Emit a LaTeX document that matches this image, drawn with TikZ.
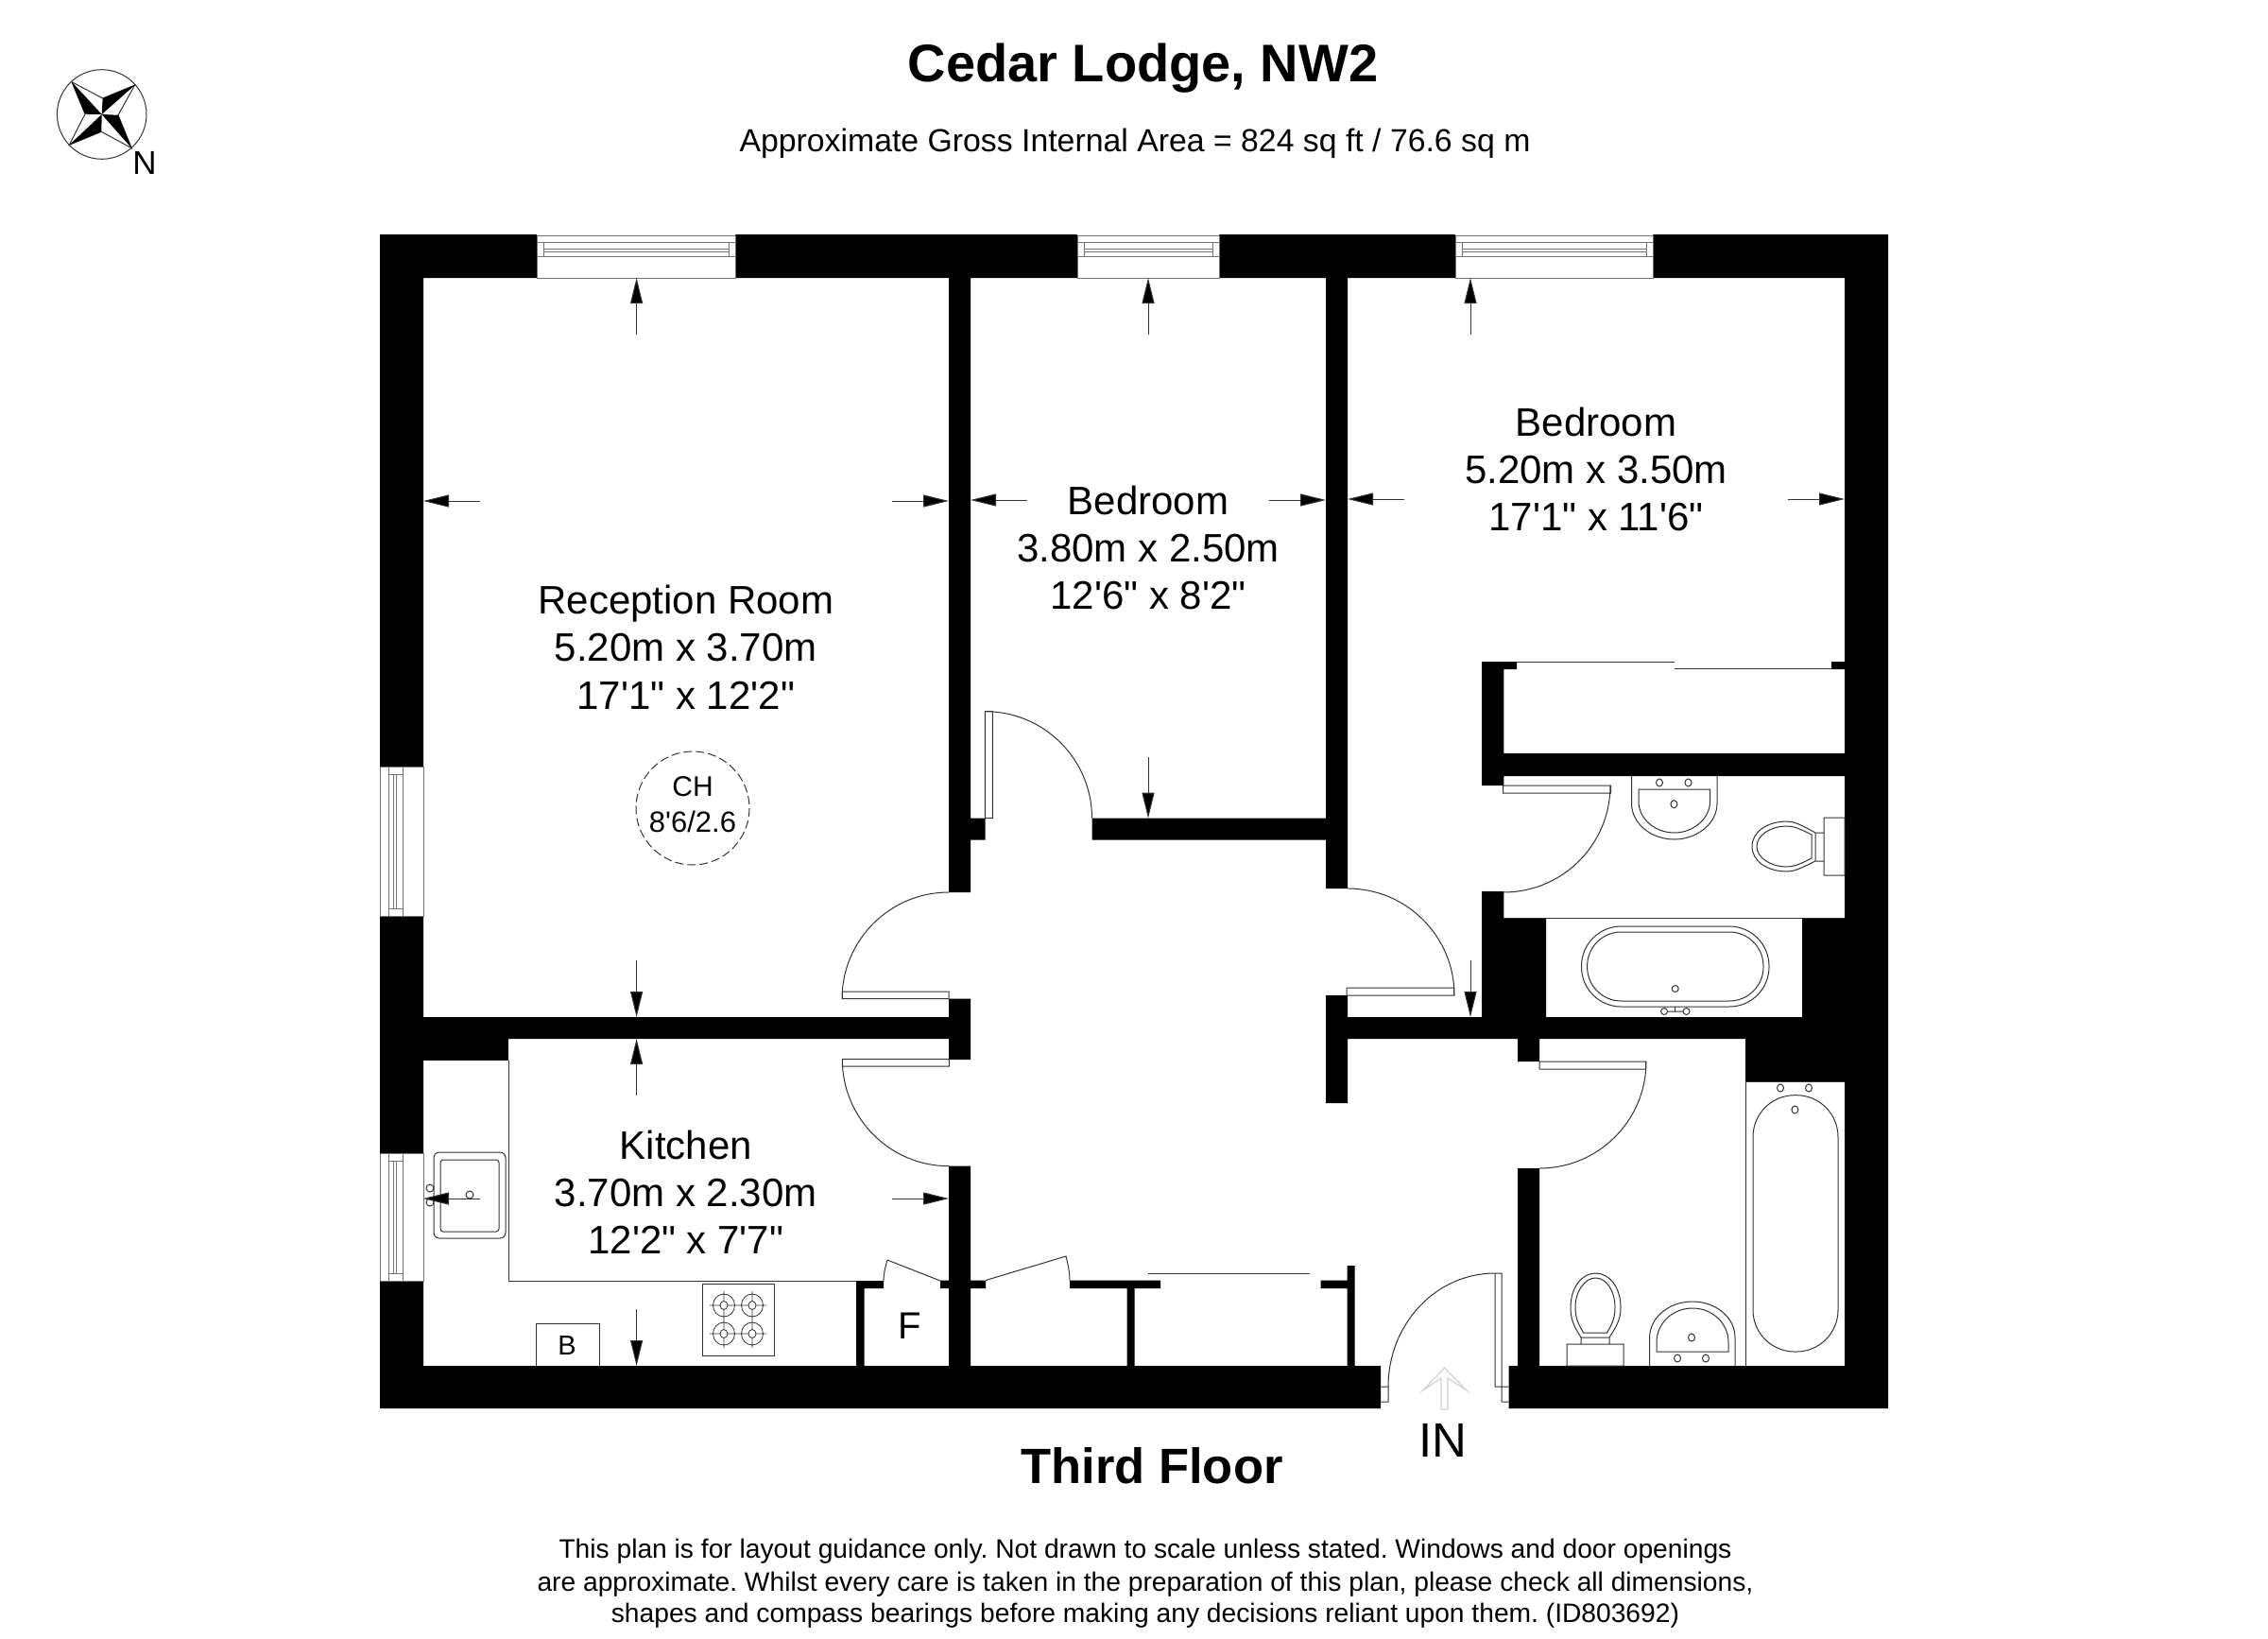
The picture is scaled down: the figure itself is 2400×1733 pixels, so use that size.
\documentclass[tikz,border=0pt]{standalone}
\usepackage{fontspec}
\setmainfont{Liberation Sans}[Ligatures=TeXOff]
\usetikzlibrary{arrows.meta}
\frenchspacing
\newcommand{\fsz}[1]{\fontsize{#1}{#1}\selectfont}
\newcommand{\winh}[2]{%
  \draw[winln,fill=white] (#1,249) rectangle (#2,294);
  \draw[winln] (#1,256) -- (#2,256) (#1,271) -- (#2,271)
    (#1+7,263) -- (#2-7,263) (#1+7,266) -- (#2-7,266)
    (#1+7,256) -- (#1+7,271) (#2-7,256) -- (#2-7,271);}
\newcommand{\winv}[2]{%
  \draw[winln,fill=white] (402,#1) rectangle (448,#2);
  \draw[winln] (411,#1) -- (411,#2) (426,#1) -- (426,#2)
    (416,#1+8) -- (416,#2-8) (419,#1+8) -- (419,#2-8)
    (411,#1+8) -- (426,#1+8) (411,#2-8) -- (426,#2-8);}
\tikzset{
  thinln/.style={draw=black!80,line width=1pt},
  winln/.style={draw=black!55,line width=0.9pt},
  walls/.style={fill=black},
  dimarrow/.style={draw=black!80,line width=1pt,-{Triangle[length=27pt,width=13pt,fill=black]}},
  lbl/.style={anchor=base,inner sep=0pt,outer sep=0pt,align=center,text=black},
}
\begin{document}
\begin{tikzpicture}[x=1pt,y=-1pt]
\useasboundingbox (0,0) rectangle (2400,1733);
\fill[white] (0,0) rectangle (2400,1733);

% ---------- walls ----------
\fill[walls]
  % top
  (402,248) rectangle (568,294)
  (778,248) rectangle (1140,294)
  (1290,248) rectangle (1540,294)
  (1749,248) rectangle (1998,294)
  % left
  (402,248) rectangle (448,811)
  (402,969) rectangle (448,1220)
  (402,1355) rectangle (448,1490)
  % reception/kitchen divide
  (402,1076) rectangle (1027,1099)
  % central wall 1
  (1004,294) rectangle (1027,944)
  (1004,865.7) rectangle (1042.5,888.6)
  (1004,1056.7) rectangle (1027,1121)
  (1004,1233.5) rectangle (1027,1445)
  (995,1354.5) rectangle (1043,1363)
  % bedroom bottom
  (1155.5,865.7) rectangle (1426,888.6)
  % central wall 2
  (1403,294) rectangle (1426,940)
  (1403,1053) rectangle (1426,1167)
  % horizontal right
  (1403,1076) rectangle (1998,1099)
  % right wall
  (1952,248) rectangle (1998,1490)
  (1907,971) rectangle (1998,1076)
  (1847,1099) rectangle (1998,1144)
  % wardrobe
  (1568,700) rectangle (1591.4,831)
  (1568,700) rectangle (1605,708)
  (1938,700) rectangle (1952,708)
  (1568,797) rectangle (1952,821)
  (1568,943) rectangle (1591.4,971)
  (1568,971) rectangle (1636,1076)
  % bathroom left
  (1606,1099) rectangle (1629,1123)
  (1606,1236) rectangle (1629,1445)
  % floor
  (402,1445) rectangle (1461,1490)
  (1596.5,1445) rectangle (1998,1490)
  % F cupboard and hall cupboards
  (906,1355) rectangle (914.5,1445)
  (906,1355) rectangle (935,1363)
  (1132,1354.5) rectangle (1228,1363)
  (1192.6,1363) rectangle (1200.6,1445)
  (1397.5,1354.5) rectangle (1433.6,1363)
  (1425.6,1339) rectangle (1433.6,1445);
% kitchen bulkhead
\fill[walls] (402,1098) -- (538,1098) -- (538,1122) -- (402,1122) -- cycle;

% ---------- windows ----------
\winh{568}{778}
\winh{1140}{1290}
\winh{1540}{1749}
\winv{811}{969}
\winv{1220}{1355}

% ---------- doors ----------
\draw[thinln]
  (1042.3,752.7) rectangle (1050.3,865.7)
  (1042.5,752.7) arc[start angle=270,end angle=360,radius=113]
  (891.3,1049) rectangle (1004,1056.7)
  (1004,944) arc[start angle=270,end angle=180,radius=113]
  (891.3,1120.7) rectangle (1004.4,1128)
  (891.3,1120.7) arc[start angle=180,end angle=90,radius=113]
  (1425,1045) rectangle (1538.5,1053)
  (1426,940) arc[start angle=270,end angle=360,radius=113]
  (1590.6,831) rectangle (1704.5,839)
  (1704,831) arc[start angle=0,end angle=90,radius=113]
  (1629,1123) rectangle (1741.5,1131)
  (1742,1123) arc[start angle=0,end angle=90,radius=113]
  (1582,1347) rectangle (1589,1467)
  (1469,1467) arc[start angle=180,end angle=270,x radius=113,y radius=120]
  (1582,1467) -- (1596.5,1467)
  (1589,1467) -- (1589,1483) -- (1596.5,1483)
  (1461,1467) -- (1469,1467) -- (1469,1483) -- (1461,1483);
% bi-fold doors
\draw[thinln]
  (935,1355) .. controls (935,1347) and (937,1340) .. (939,1333) -- (995,1355)
  (1043,1354.5) -- (1128,1329) .. controls (1130,1337) and (1132,1346) .. (1132,1354.5);
% sliding doors
\draw[thinln]
  (1605,700) -- (1772,700)
  (1772,707.7) -- (1938,707.7)
  (1215,1347) -- (1386,1347);

% ---------- ensuite fittings ----------
\draw[thinln]
  (1726.5,821) -- (1726.5,850) .. controls (1726.5,871) and (1747,888) .. (1771.75,888)
    .. controls (1796,888) and (1817,871) .. (1817,850) -- (1817,821)
  (1734,835) -- (1809.5,835) -- (1809.5,848) .. controls (1809.5,866) and (1792,881) .. (1771.75,881)
    .. controls (1751,881) and (1734,866) .. (1734,848) -- cycle
  (1756,828) ellipse[x radius=3.5,y radius=4]
  (1786.5,828) ellipse[x radius=3.5,y radius=4]
  (1771.4,850.7) ellipse[x radius=3.5,y radius=4];
\draw[thinln]
  (1930,865) rectangle (1952,926)
  (1921.6,881) -- (1930,881) (1921.6,911) -- (1930,911)
  (1921,881) .. controls (1905,872) and (1898,869) .. (1891,869)
    .. controls (1870,869) and (1854,880) .. (1854,895.5)
    .. controls (1854,911) and (1870,922) .. (1891,922)
    .. controls (1898,922) and (1905,919) .. (1921,911) -- cycle
  (1917,883) .. controls (1905,877) and (1898,874) .. (1891,874)
    .. controls (1873,874) and (1859,884) .. (1859,895.5)
    .. controls (1859,907) and (1873,917) .. (1891,917)
    .. controls (1898,917) and (1905,914) .. (1917,908) -- cycle;
\draw[thinln] (1591,971) -- (1952,971);
\draw[thinln,rounded corners=42pt] (1673.5,980) rectangle (1872,1065);
\draw[thinln,rounded corners=36pt] (1679.6,986) rectangle (1866,1059);
\draw[thinln]
  (1772.7,1046) circle[radius=3.5]
  (1761,1070) circle[radius=3.5]
  (1784.5,1070) circle[radius=3.5]
  (1764.5,1070) -- (1781,1070)
  (1772.7,1065) -- (1772.7,1070);

% ---------- bathroom fittings ----------
\draw[thinln]
  (1658,1422) rectangle (1718,1445)
  (1673,1415) -- (1673,1422) (1703,1415) -- (1703,1422)
  (1673,1415) .. controls (1667,1405) and (1662,1398) .. (1662,1383)
    .. controls (1662,1362) and (1674,1347) .. (1688.5,1347)
    .. controls (1703,1347) and (1715,1362) .. (1715,1383)
    .. controls (1715,1398) and (1709,1405) .. (1703,1415) -- cycle
  (1675.6,1410) .. controls (1671,1402) and (1667,1396) .. (1667,1383)
    .. controls (1667,1366) and (1677,1352) .. (1688.5,1352)
    .. controls (1700,1352) and (1709,1366) .. (1709,1383)
    .. controls (1709,1396) and (1705,1402) .. (1700.5,1410) -- cycle;
\draw[thinln]
  (1745.6,1445) -- (1745.6,1415) .. controls (1745.6,1394) and (1766,1377) .. (1790.8,1377)
    .. controls (1816,1377) and (1836,1394) .. (1836,1415) -- (1836,1445)
  (1753,1430) -- (1829,1430) -- (1829,1420) .. controls (1829,1400) and (1812,1384) .. (1791,1384)
    .. controls (1770,1384) and (1753,1400) .. (1753,1420) -- cycle
  (1775,1437) ellipse[x radius=3.5,y radius=4]
  (1805,1437) ellipse[x radius=3.5,y radius=4]
  (1790,1415) ellipse[x radius=3.5,y radius=4];
\draw[thinln]
  (1847,1144) -- (1847,1445)
  (1847,1144) -- (1952,1144);
\draw[thinln,rounded corners=44pt] (1855,1158.7) rectangle (1945,1430);
\draw[thinln]
  (1884,1151) ellipse[x radius=3.5,y radius=4]
  (1914,1151) ellipse[x radius=3.5,y radius=4]
  (1899.4,1174) ellipse[x radius=3.5,y radius=4];

% ---------- kitchen fittings ----------
\draw[thinln] (538,1122) -- (538,1355) -- (906,1355);
\draw[thinln,rounded corners=6pt] (459,1219) rectangle (535,1310);
\draw[thinln,rounded corners=3pt] (466,1227) rectangle (528,1303);
\draw[thinln]
  (497,1264) circle[radius=4]
  (455,1257) circle[radius=4]
  (455,1272) circle[radius=4];
\draw[thinln] (567,1445) -- (567,1400) -- (634.6,1400) -- (634.6,1445);
\draw[thinln] (743.6,1358) rectangle (819,1434);
\foreach \hx/\hy in {766/1381,796/1381,766/1411,796/1411}{
  \draw[draw=black!80,line width=0.8pt]
    (\hx-15,\hy) -- (\hx+15,\hy) (\hx,\hy-15) -- (\hx,\hy+15)
    (\hx,\hy) ellipse[x radius=11.5,y radius=12];
  \draw[draw=black!80,fill=white,line width=0.8pt] (\hx,\hy) ellipse[x radius=4,y radius=4.5];
}

% ---------- dimension arrows ----------
\draw[dimarrow] (673.6,354) -- (673.6,294);
\draw[dimarrow] (508,530) -- (448,530);
\draw[dimarrow] (944,530) -- (1004,530);
\draw[dimarrow] (673.6,1016) -- (673.6,1076);
\draw[dimarrow] (1215,354) -- (1215,294);
\draw[dimarrow] (1087,529) -- (1027,529);
\draw[dimarrow] (1343,529) -- (1403,529);
\draw[dimarrow] (1215,801) -- (1215,865.7);
\draw[dimarrow] (1556,354) -- (1556,294);
\draw[dimarrow] (1486,528) -- (1426,528);
\draw[dimarrow] (1892,528) -- (1952,528);
\draw[dimarrow] (1556,1016) -- (1556,1076);
\draw[dimarrow] (673.6,1159) -- (673.6,1099);
\draw[dimarrow] (673.6,1385) -- (673.6,1445);
\draw[dimarrow] (508,1268) -- (448,1268);
\draw[dimarrow] (944,1268) -- (1004,1268);

% ---------- ceiling height ----------
\draw[draw=black!80,line width=1pt,dash pattern=on 9pt off 4pt] (733,855) circle[radius=60];

% ---------- entrance arrow ----------
\draw[draw=black!18,line width=1.2pt]
  (1525,1491) -- (1525,1458) -- (1505.6,1471) -- (1528.5,1447) -- (1552,1471) -- (1532,1458) -- (1532,1491) -- cycle;

% ---------- compass ----------
\draw[draw=black!80,line width=1pt] (107.7,121) circle[radius=47.3];
\draw[draw=black!80,line width=1pt]
  (142.7,90) -- (108.7,104) -- (76,86.7) -- (90,120.7) -- (73.3,153.3)
  -- (107.3,139.3) -- (139.3,156.7) -- (125,121.7) -- cycle;
\fill[black]
  (107.7,121) -- (108.7,104) -- (142.7,90) -- cycle
  (107.7,121) -- (125,121.7) -- (139.3,156.7) -- cycle
  (107.7,121) -- (107.3,139.3) -- (73.3,153.3) -- cycle
  (107.7,121) -- (90,120.7) -- (76,86.7) -- cycle;

% ---------- text ----------
\node[lbl,font=\fsz{35}] (north) at (153,184) {N};
\node[lbl,font=\fsz{56}\bfseries] (title) at (1209.5,86) {Cedar Lodge, NW2};
\node[lbl,font=\fsz{33.8}] (area) at (1201,160) {Approximate Gross Internal Area = 824 sq ft / 76.6 sq m};

\node[lbl,font=\fsz{42}] (rec1) at (725.8,649) {Reception Room};
\node[lbl,font=\fsz{42}] (rec2) at (725.8,699.5) {5.20m x 3.70m};
\node[lbl,font=\fsz{42}] (rec3) at (725.8,750) {17'1" x 12'2"};
\node[lbl,font=\fsz{30}] (ch1) at (733,842.7) {CH};
\node[lbl,font=\fsz{31}] (ch2) at (733,880) {8'6/2.6};

\node[lbl,font=\fsz{42}] (bed1a) at (1215,544) {Bedroom};
\node[lbl,font=\fsz{42}] (bed1b) at (1215,594) {3.80m x 2.50m};
\node[lbl,font=\fsz{42}] (bed1c) at (1215,644) {12'6" x 8'2"};

\node[lbl,font=\fsz{42}] (bed2a) at (1689,461.5) {Bedroom};
\node[lbl,font=\fsz{42}] (bed2b) at (1689,511.5) {5.20m x 3.50m};
\node[lbl,font=\fsz{42}] (bed2c) at (1689,561) {17'1" x 11'6"};

\node[lbl,font=\fsz{42}] (kit1) at (725.8,1226) {Kitchen};
\node[lbl,font=\fsz{42}] (kit2) at (725.8,1276) {3.70m x 2.30m};
\node[lbl,font=\fsz{42}] (kit3) at (725.8,1326) {12'2" x 7'7"};

\node[lbl,font=\fsz{29}] (boiler) at (600,1433) {B};
\node[lbl,font=\fsz{40}] (fridge) at (963,1416.5) {F};
\node[lbl,font=\fsz{51}] (entry) at (1527,1541.5) {IN};
\node[lbl,font=\fsz{52.5}\bfseries] (floor) at (1219,1569.5) {Third Floor};

\node[lbl,font=\fsz{28.2}] (foot1) at (1212,1648) {This plan is for layout guidance only. Not drawn to scale unless stated. Windows and door openings};
\node[lbl,font=\fsz{28.2}] (foot2) at (1212,1683) {are approximate. Whilst every care is taken in the preparation of this plan, please check all dimensions,};
\node[lbl,font=\fsz{28.2}] (foot3) at (1212,1716) {shapes and compass bearings before making any decisions reliant upon them. (ID803692)};
\end{tikzpicture}
\end{document}
